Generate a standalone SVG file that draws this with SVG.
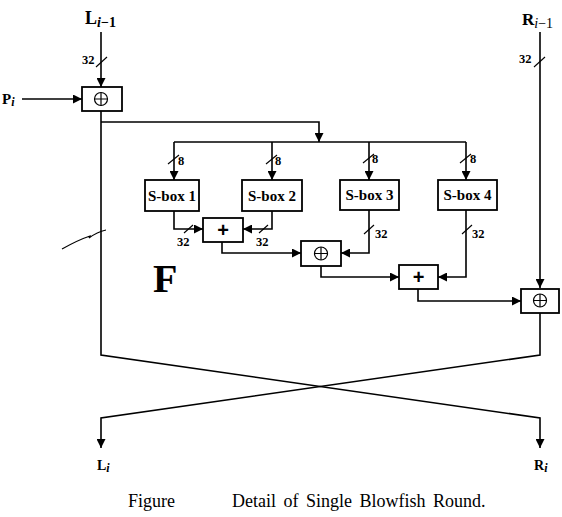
<svg xmlns="http://www.w3.org/2000/svg" width="562" height="517" viewBox="0 0 562 517">
<style>
.ln{fill:none;stroke:#000;stroke-width:1.6}
.bx{fill:#fff;stroke:#000;stroke-width:1.8}
.tk{stroke:#000;stroke-width:1.1}
.t{font-family:"Liberation Serif","Times New Roman",serif;font-weight:bold;fill:#000}
.sb{font-size:15px}
.n{font-size:12.5px}
.sym{fill:none;stroke:#000;stroke-width:1.2}
.pl{font-family:"Liberation Sans",Arial,sans-serif;font-weight:bold;font-size:20px}
.cap{font-family:"Liberation Serif","Times New Roman",serif;font-size:18px;fill:#000;word-spacing:3px}
</style>
<defs>
<marker id="ah" viewBox="0 0 10 10" refX="10" refY="5" markerWidth="9" markerHeight="9" markerUnits="userSpaceOnUse" orient="auto">
<path d="M0,0 L10,5 L0,10 z" fill="#000"/>
</marker>
</defs>
<rect width="562" height="517" fill="#fff"/>
<g id="connectors">
<path class="ln" d="M101,32 V87" marker-end="url(#ah)"/>
<path class="ln" d="M22,99 H82" marker-end="url(#ah)"/>
<path class="ln" d="M101,111 V355 L540,418 V448" marker-end="url(#ah)"/>
<path class="ln" d="M540,313 V355 L101,418 V448" marker-end="url(#ah)"/>
<path class="ln" d="M101,122 H319 V142" marker-end="url(#ah)"/>
<path class="ln" d="M174,142 H466"/>
<path class="ln" d="M174,142 V180" marker-end="url(#ah)"/>
<path class="ln" d="M272,142 V180" marker-end="url(#ah)"/>
<path class="ln" d="M369,142 V180" marker-end="url(#ah)"/>
<path class="ln" d="M466,142 V180" marker-end="url(#ah)"/>
<path class="ln" d="M174,211 V229 H203" marker-end="url(#ah)"/>
<path class="ln" d="M272,211 V229 H243" marker-end="url(#ah)"/>
<path class="ln" d="M222,242 V253 H301" marker-end="url(#ah)"/>
<path class="ln" d="M369,210 V253 H341" marker-end="url(#ah)"/>
<path class="ln" d="M321,266 V277 H399" marker-end="url(#ah)"/>
<path class="ln" d="M466,210 V277 H438" marker-end="url(#ah)"/>
<path class="ln" d="M418,289 V301 H521" marker-end="url(#ah)"/>
<path class="ln" d="M540,32 V288" marker-end="url(#ah)"/>
<!-- bit-width ticks -->
<line class="tk" x1="96" y1="67" x2="107" y2="57"/>
<line class="tk" x1="534" y1="67" x2="545" y2="57"/>
<line class="tk" x1="168" y1="164" x2="179" y2="155"/>
<line class="tk" x1="266" y1="164" x2="277" y2="155"/>
<line class="tk" x1="363" y1="163" x2="374" y2="154"/>
<line class="tk" x1="460" y1="163" x2="471" y2="154"/>
<line class="tk" x1="184" y1="233" x2="193" y2="225"/>
<line class="tk" x1="259" y1="233" x2="268" y2="225"/>
<line class="tk" x1="364" y1="234" x2="374" y2="225"/>
<line class="tk" x1="462" y1="234" x2="472" y2="225"/>
</g>
<g id="labels">
<text class="t n" x="82" y="64">32</text>
<text class="t n" x="519" y="63">32</text>
<text class="t n" x="178" y="165">8</text>
<text class="t n" x="275" y="165">8</text>
<text class="t n" x="372" y="163">8</text>
<text class="t n" x="470" y="163">8</text>
<text class="t n" x="177" y="246">32</text>
<text class="t n" x="256" y="246">32</text>
<text class="t n" x="375" y="238">32</text>
<text class="t n" x="472" y="238">32</text>
</g>
<g id="Lin"><text class="t" x="85" y="24" font-size="18">L<tspan font-size="14" dy="3"><tspan font-style="italic">i</tspan>−1</tspan></text></g>
<g id="Rin"><text class="t" x="522" y="25" font-size="17">R<tspan font-size="14" dy="3" font-weight="normal"><tspan font-style="italic">i</tspan>−1</tspan></text></g>
<g id="Pi"><text class="t" x="2" y="104" font-size="15">P<tspan font-size="12" dy="2" font-style="italic">i</tspan></text></g>
<g id="xor1">
<rect class="bx" x="82" y="87" width="40" height="24"/>
<circle class="sym" cx="101" cy="99" r="6.5"/>
<path class="sym" d="M94.5,99 H107.5 M101,92.5 V105.5"/>
</g>
<g id="sbox1"><rect class="bx" x="145" y="180" width="54" height="31"/><text class="t sb" x="172" y="201" text-anchor="middle">S-box 1</text></g>
<g id="sbox2"><rect class="bx" x="242" y="180" width="60" height="31"/><text class="t sb" x="272" y="201" text-anchor="middle">S-box 2</text></g>
<g id="sbox3"><rect class="bx" x="340" y="180" width="59" height="30"/><text class="t sb" x="369.5" y="200" text-anchor="middle">S-box 3</text></g>
<g id="sbox4"><rect class="bx" x="438" y="180" width="59" height="30"/><text class="t sb" x="467.5" y="200" text-anchor="middle">S-box 4</text></g>
<g id="add1"><rect class="bx" x="203" y="218" width="40" height="24"/><text class="pl" x="223" y="237" text-anchor="middle">+</text></g>
<g id="xor2">
<rect class="bx" x="301" y="241" width="40" height="25"/>
<circle class="sym" cx="321" cy="253.5" r="6.5"/>
<path class="sym" d="M314.5,253.5 H327.5 M321,247 V260"/>
</g>
<g id="add2"><rect class="bx" x="399" y="265" width="39" height="24"/><text class="pl" x="418.5" y="284" text-anchor="middle">+</text></g>
<g id="xor3">
<rect class="bx" x="521" y="289" width="38" height="24"/>
<circle class="sym" cx="540" cy="300.5" r="6.5"/>
<path class="sym" d="M533.5,300.5 H546.5 M540,294 V307"/>
</g>
<g id="F"><text class="t" x="153" y="292" font-size="40">F</text></g>
<path d="M62,249 Q78,240 90,236 L89,238 Q97,232 106,230" fill="none" stroke="#000" stroke-width="1.1"/>
<g id="Lout"><text class="t" x="97" y="470" font-size="14">L<tspan font-size="12" dy="2" font-style="italic">i</tspan></text></g>
<g id="Rout"><text class="t" x="534" y="470" font-size="14">R<tspan font-size="12" dy="2" font-style="italic">i</tspan></text></g>
<g id="caption">
<text class="cap" x="128" y="507">Figure</text>
<text class="cap" x="232" y="507">Detail of Single Blowfish Round.</text>
</g>
</svg>
